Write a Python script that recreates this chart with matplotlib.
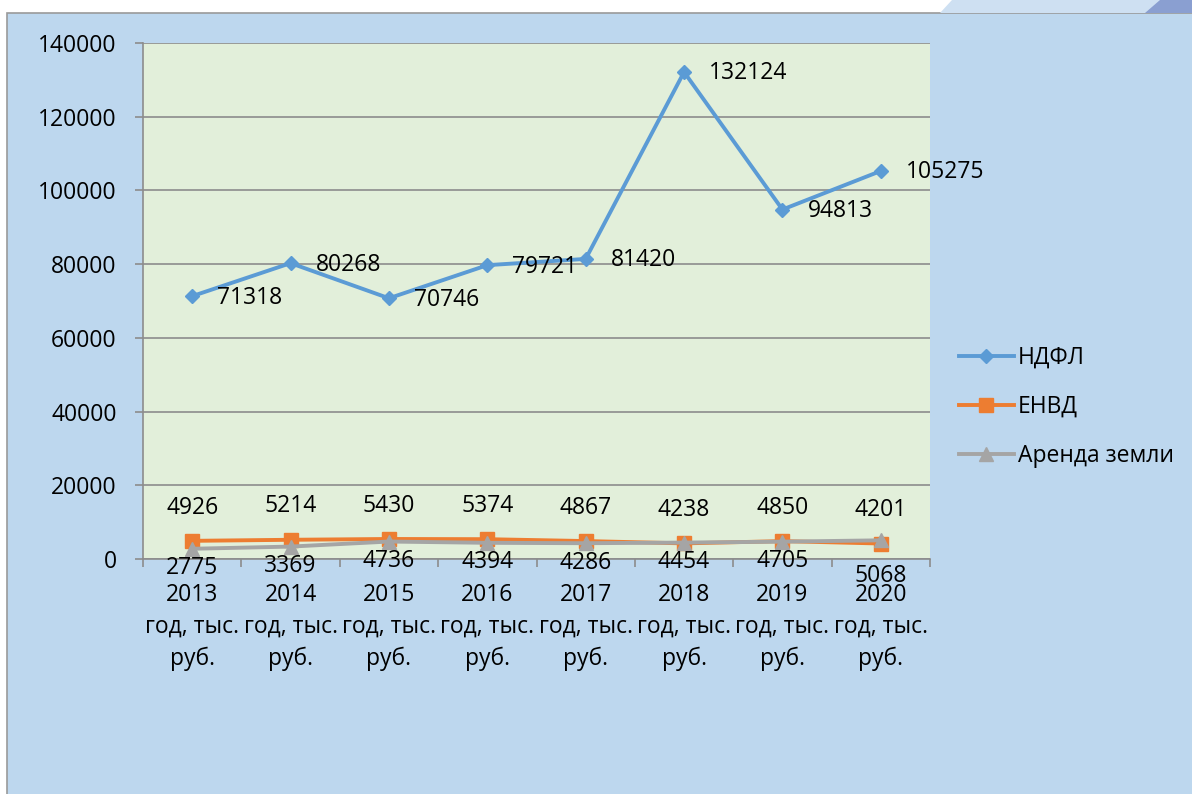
import matplotlib.pyplot as plt
from matplotlib.patches import Rectangle, Polygon

plt.rcParams['font.family'] = ['Open Sans', 'DejaVu Sans']

# data
years = ['2013', '2014', '2015', '2016', '2017', '2018', '2019', '2020']
ndfl = [71318, 80268, 70746, 79721, 81420, 132124, 94813, 105275]
envd = [4926, 5214, 5430, 5374, 4867, 4238, 4850, 4201]
arenda = [2775, 3369, 4736, 4394, 4286, 4454, 4705, 5068]
series_names = ['НДФЛ', 'ЕНВД', 'Аренда земли']
yticks = [0, 20000, 40000, 60000, 80000, 100000, 120000, 140000]

blue_c = '#5B9BD5'
orange_c = '#ED7D31'
gray_c = '#A5A5A5'
fs = 16.5

fig = plt.figure(figsize=(11.92, 7.94), dpi=100)
fig.patch.set_facecolor('white')

# chart area background and decoration at the top right
fig.patches.append(Rectangle((7 / 1192, -0.01), 1.02, 1 - 13 / 794 + 0.01,
                             transform=fig.transFigure, facecolor='#BDD7EE',
                             edgecolor='#9A9A9A', linewidth=1.2, zorder=-2))
top = 1 - 13 / 794
fig.patches.append(Polygon([(940 / 1192, top), (952 / 1192, 1), (1, 1), (1, top)],
                           closed=True, transform=fig.transFigure,
                           facecolor='#CEE0F2', edgecolor='none', zorder=-2))
fig.patches.append(Polygon([(1145 / 1192, top), (1160 / 1192, 1), (1, 1), (1, top)],
                           closed=True, transform=fig.transFigure,
                           facecolor='#8A9FD1', edgecolor='none', zorder=-2))

ax = fig.add_axes([143 / 1192, 1 - 559 / 794, 787 / 1192, 516 / 794])
ax.set_facecolor('#E2EFDA')

x = list(range(len(years)))
ax.plot(x, ndfl, color=blue_c, lw=2.8, marker='D', ms=7, label=series_names[0], zorder=3)
ax.plot(x, envd, color=orange_c, lw=2.8, marker='s', ms=10, label=series_names[1], zorder=4)
ax.plot(x, arenda, color=gray_c, lw=2.8, marker='^', ms=10, label=series_names[2], zorder=5)

# data labels
for i, v in enumerate(ndfl):
    ax.annotate(str(v), (i, v), xytext=(18, -1), textcoords='offset points',
                ha='left', va='center', fontsize=fs)
for i, v in enumerate(envd):
    ax.annotate(str(v), (i, v), xytext=(0, 24), textcoords='offset points',
                ha='center', va='center', fontsize=fs)
nudge = {7: -12}
for i, v in enumerate(arenda):
    ax.annotate(str(v), (i, v), xytext=(0, -14 + nudge.get(i, 0)), textcoords='offset points',
                ha='center', va='center', fontsize=fs, zorder=6)

ax.set_xlim(-0.5, len(years) - 0.5)
ax.set_ylim(0, 140000)
ax.set_yticks(yticks)
ax.set_yticklabels([str(t) for t in yticks], fontsize=fs)
ax.yaxis.grid(True, color='#8C8C8C', lw=1.2)
ax.set_axisbelow(True)

ax.set_xticks(x)
ax.set_xticklabels([y + '\nгод, тыс.\nруб.' for y in years], fontsize=fs, linespacing=1.45)
ax.set_xticks([i - 0.5 for i in range(len(years) + 1)], minor=True)
ax.tick_params(axis='x', which='major', length=0, pad=17)
ax.tick_params(axis='x', which='minor', length=6, color='#8C8C8C', width=1.2, direction='out')
ax.tick_params(axis='y', length=6, color='#8C8C8C', width=1.2, pad=13)

for s in ['top', 'right']:
    ax.spines[s].set_visible(False)
for s in ['left', 'bottom']:
    ax.spines[s].set_color('#8C8C8C')
    ax.spines[s].set_linewidth(1.2)

ax.legend(loc='center left', bbox_to_anchor=(938 / 1192, 1 - 407 / 794),
          bbox_transform=fig.transFigure, frameon=False, fontsize=fs,
          handlelength=2.4, handletextpad=0.2, labelspacing=1.1)

fig.savefig('out.png', dpi=100, facecolor=fig.get_facecolor())
